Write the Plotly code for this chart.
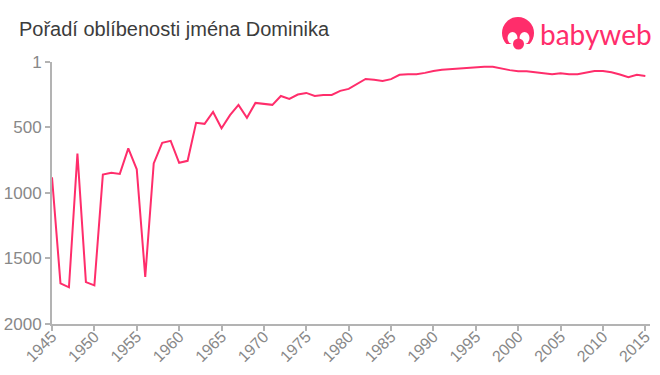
import plotly.graph_objects as go

years = list(range(1945, 2016))
ranks = [880, 1690, 1720, 700, 1680, 1705, 860, 847, 855, 660,
         820, 1640, 775, 618, 603, 770, 755, 465, 473, 382,
         507, 407, 328, 427, 313, 320, 328, 260, 282, 249,
         237, 260, 252, 252, 221, 206, 165, 130, 137, 145,
         132, 99, 94, 94, 84, 69, 61, 56, 54, 48,
         46, 38, 38, 53, 63, 71, 71, 79, 86, 94,
         86, 94, 94, 84, 69, 69, 79, 96, 117, 99, 107]
y_ticks = [1, 500, 1000, 1500, 2000]
x_ticks = list(range(1945, 2016, 5))
title_text = "Pořadí oblíbenosti jména Dominika"
brand = "babyweb"
PINK = "#ff2d6b"
W, H = 660, 375
L, R, T, B = 52, 650, 62, 324

def px(v): return (v - L) / (R - L)
def py(v): return (B - v) / (B - T)
def ell(cx, cy, rx, ry, color):
    return dict(type="circle", xref="paper", yref="paper", x0=px(cx-rx), x1=px(cx+rx),
                y0=py(cy+ry), y1=py(cy-ry), fillcolor=color, line_width=0, layer="above")

fig = go.Figure(go.Scatter(x=years, y=ranks, mode="lines",
                           line=dict(color=PINK, width=2), hoverinfo="skip"))
fig.update_layout(
    width=W, height=H, autosize=False,
    margin=dict(l=L, r=W-R, t=T, b=H-B, pad=0, autoexpand=False),
    paper_bgcolor="white", plot_bgcolor="white", showlegend=False,
    font=dict(family="Liberation Sans, Arial, sans-serif"),
    xaxis=dict(range=[1945, 2015.55], tickmode="array", tickvals=x_ticks,
               ticktext=[str(v) for v in x_ticks], tickangle=-45, showgrid=False, zeroline=False,
               showline=True, linecolor="#b3b3b3", linewidth=2, ticks="outside", ticklen=5,
               tickcolor="#b3b3b3", tickwidth=1.5, tickfont=dict(size=16, color="#888888"),
               ticklabelstandoff=-10, ticklabelshift=0),
    yaxis=dict(range=[2000, 1], tickmode="array", tickvals=y_ticks,
               ticktext=[str(v) for v in y_ticks], showgrid=False, zeroline=False,
               showline=True, linecolor="#b3b3b3", linewidth=2, ticks="outside", ticklen=5,
               tickcolor="#b3b3b3", tickwidth=1.5, tickfont=dict(size=17, color="#888888")),
    annotations=[
        dict(text=title_text, xref="paper", yref="paper", x=px(19), y=py(29.5), xanchor="left",
             yanchor="middle", showarrow=False, xshift=-2, font=dict(size=20, color="#3c3c3c")),
        dict(text=brand, xref="paper", yref="paper", x=px(538), y=py(34), xanchor="left",
             yanchor="middle", showarrow=False, font=dict(size=28, color=PINK, family="Lato, sans-serif")),
    ],
    shapes=[
        ell(518, 33, 16, 16, PINK),
        ell(512.5, 38, 5, 6, "white"),
        ell(524.5, 38, 5, 6, "white"),
        ell(518.5, 47, 10, 5, "white"),
        dict(type="rect", xref="paper", yref="paper", x0=px(500), x1=px(536), y0=py(50), y1=py(44),
             fillcolor="white", line_width=0, layer="above"),
        ell(518.5, 44, 5.5, 5.5, PINK),
    ],
)
fig.write_html("out.html", post_script="document.body.style.margin='0';",
               config={"displayModeBar": False})
